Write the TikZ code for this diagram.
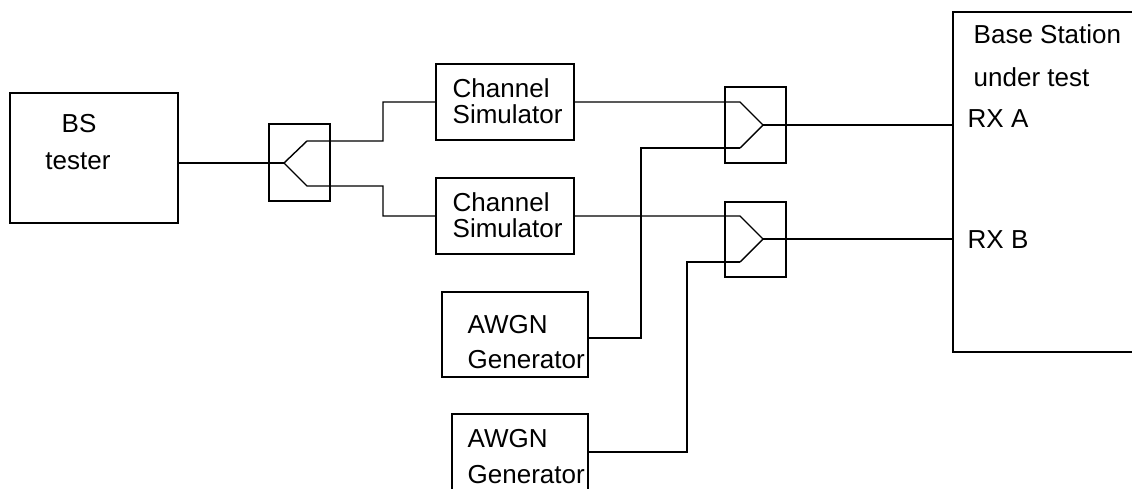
\documentclass[tikz,border=0pt]{standalone}
\usepackage{fontspec}
\setmainfont{Liberation Sans}
\begin{document}
\begin{tikzpicture}[x=1pt,y=-1pt,line width=1.4pt,
  box/.style={draw,rectangle,inner sep=0pt,minimum width=#1},
  txt/.style={anchor=base west,inner sep=0pt,font=\fontsize{26}{30}\selectfont},
  ctxt/.style={anchor=base,inner sep=0pt,font=\fontsize{26}{30}\selectfont}]
\useasboundingbox (0,0) rectangle (1132,488);
\clip (0,0) rectangle (1132,488);
% BS tester
\node[box=168pt,minimum height=130pt] (bs) at (94,158) {};
\node[ctxt] (bst1) at (79,132) {BS};
\node[ctxt] (bst2) at (78,169) {tester};
% splitter 1
\node[box=61pt,minimum height=77pt] (sp1) at (299.5,162.5) {};
\coordinate (v1) at (284,163);
\coordinate (u1) at (307,141);
\coordinate (l1) at (307,186);
% channel simulators
\node[box=138pt,minimum height=76pt] (cs1) at (505,102) {};
\node[box=138pt,minimum height=76pt] (cs2) at (505,216) {};
\node[txt] (cs1a) at (452,97) {Channel};
\node[txt] (cs1b) at (452,123) {Simulator};
\node[txt] (cs2a) at (452,211) {Channel};
\node[txt] (cs2b) at (452,237) {Simulator};
% combiners
\node[box=61pt,minimum height=76pt] (sp2) at (755.5,125) {};
\node[box=61pt,minimum height=75pt] (sp3) at (755.5,239.5) {};
\coordinate (v2) at (763,125);
\coordinate (a2) at (740,102);
\coordinate (b2) at (740,148);
\coordinate (v3) at (763,239);
\coordinate (a3) at (740,216);
\coordinate (b3) at (740,262);
% AWGN generators
\node[box=146pt,minimum height=85pt] (aw1) at (515,334.5) {};
\node[txt] (aw1a) at (467,333) {AWGN};
\node[txt] (aw1b) at (467,368) {Generator};
\node[box=136pt,minimum height=106pt] (aw2) at (520,467) {};
\node[txt] (aw2a) at (467,447) {AWGN};
\node[txt] (aw2b) at (467,483) {Generator};
\coordinate (k1) at (641,338);
\coordinate (k2) at (687,452);
% base station
\node[box=260pt,minimum height=340pt] (bsut) at (1083,182) {};
\node[txt] (b1) at (973,43) {Base Station};
\node[txt] (b2t) at (973,86) {under test};
\node[txt] (rxa) at (967,127) {RX A};
\node[txt] (rxb) at (967,248) {RX B};
% connectors
\draw (bs.east |- v1) -- (v1);
\draw (v1) -- (u1) -- ++(76,0) |- (cs1.west);
\draw (v1) -- (l1) -- ++(76,0) |- (cs2.west);
\draw (cs1.east) -- (a2) -- (v2) -- (b2);
\draw (cs2.east) -- (a3) -- (v3) -- (b3);
\draw (v2) -- (bsut.west |- v2);
\draw (v3) -- (bsut.west |- v3);
\draw (b2) -| (k1) -- (aw1.east |- k1);
\draw (b3) -| (k2) -- (aw2.east |- k2);
\end{tikzpicture}
\end{document}
